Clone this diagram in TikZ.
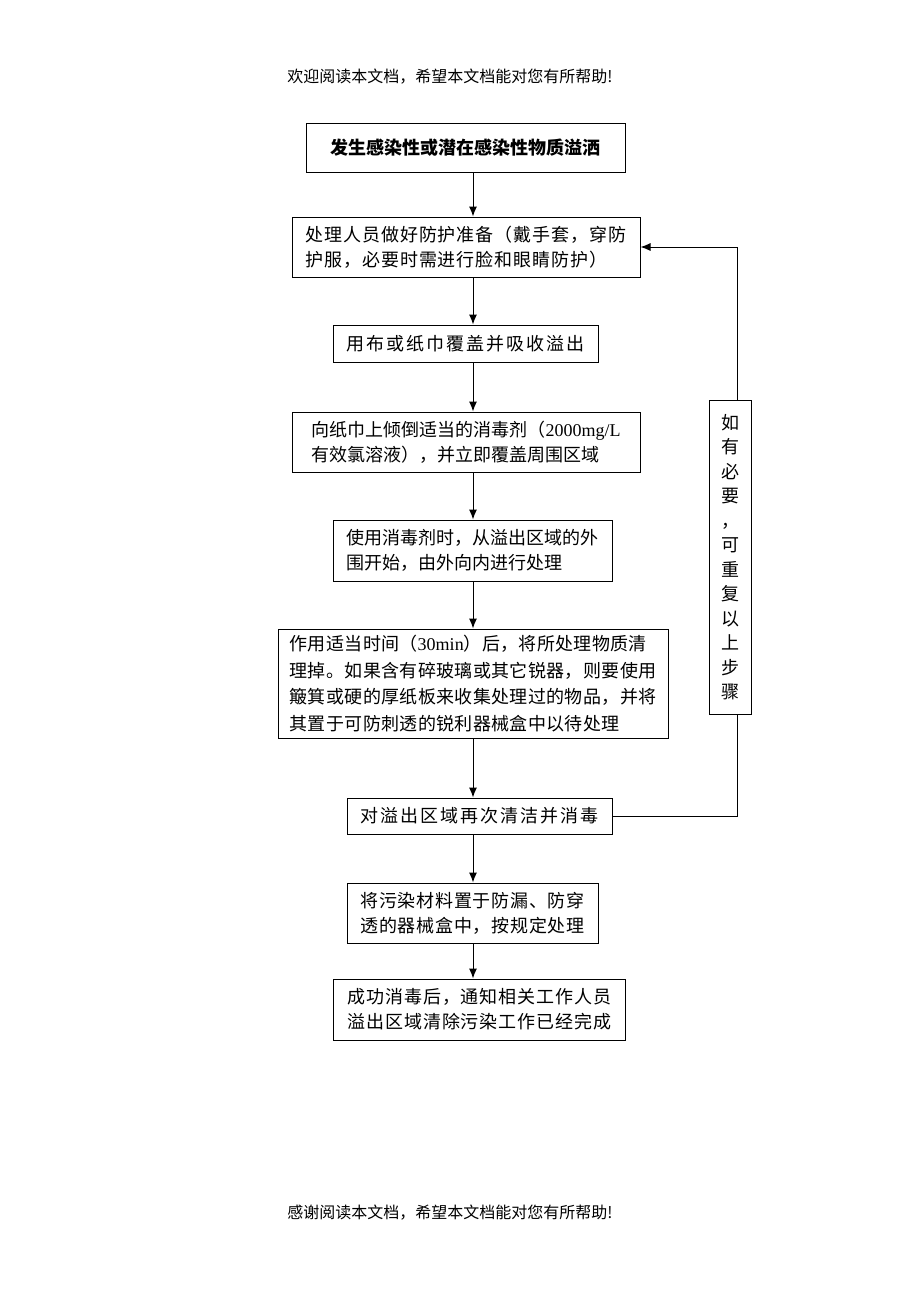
\documentclass[tikz,border=0pt]{standalone}
\usepackage{fontspec}
\setmainfont{Noto Sans CJK SC}
\newfontfamily\lat{Liberation Serif}
\usetikzlibrary{positioning,arrows.meta}

\begin{document}
\begin{tikzpicture}[
        x=1pt, y=-1pt,
        font=\fontsize{18}{25}\selectfont,
        stepbox/.style={rectangle, draw, line width=1pt, inner sep=0pt, align=left},
        spaced/.style={font=\fontsize{18}{25}\selectfont\addfontfeatures{LetterSpace=#1}},
        note/.style={font=\fontsize{16}{18}\selectfont},
        arr/.style={-{Latex[length=10pt,width=8pt]}, line width=1pt}
    ]
        \useasboundingbox (0,0) rectangle (920,1302);

        \node[note] (head) at (450,77) {欢迎阅读本文档，希望本文档能对您有所帮助!};
        \node[note] (foot) at (450,1213) {感谢阅读本文档，希望本文档能对您有所帮助!};

        \node[stepbox, minimum width=319, minimum height=49, font=\bfseries\fontsize{18}{20}\selectfont] (spill) at (465.5,147.5) {发生感染性或潜在感染性物质溢洒};
        \node[stepbox, spaced=5.5, minimum width=348, minimum height=60] (protect) at (466,247) {处理人员做好防护准备（戴手套，穿防\\护服，必要时需进行脸和眼睛防护）};
        \node[stepbox, spaced=11, minimum width=265, minimum height=37] (cover) at (465.5,343.5) {用布或纸巾覆盖并吸收溢出};
        \node[stepbox, minimum width=348, minimum height=60] (pour) at (466,442) {向纸巾上倾倒适当的消毒剂（{\lat 2000mg/L}\\有效氯溶液），并立即覆盖周围区域};
        \node[stepbox, minimum width=279, minimum height=61] (outside) at (472.5,550.5) {使用消毒剂时，从溢出区域的外\\围开始，由外向内进行处理};
        \node[stepbox, minimum width=390, minimum height=109, font=\fontsize{18}{26.5}\selectfont\addfontfeatures{LetterSpace=2}] (clear) at (473,683.5) {作用适当时间（{\lat 30min}）后，将所处理物质清\\理掉。如果含有碎玻璃或其它锐器，则要使用\\簸箕或硬的厚纸板来收集处理过的物品，并将\\其置于可防刺透的锐利器械盒中以待处理};
        \node[stepbox, spaced=11, minimum width=265, minimum height=36] (again) at (479.5,816) {对溢出区域再次清洁并消毒};
        \node[stepbox, spaced=4, minimum width=251, minimum height=60] (waste) at (472.5,913) {将污染材料置于防漏、防穿\\透的器械盒中，按规定处理};
        \node[stepbox, spaced=5.5, minimum width=292, minimum height=61] (done) at (479.5,1009.5) {成功消毒后，通知相关工作人员\\溢出区域清除污染工作已经完成};
        \node[stepbox, minimum width=42, minimum height=314, align=center, font=\fontsize{18}{24.5}\selectfont] (repeat) at (730,557) {如\\有\\必\\要\\，\\可\\重\\复\\以\\上\\步\\骤};

        \draw[arr] (spill.south -| clear) -- (protect.north -| clear);
        \draw[arr] (protect.south -| clear) -- (cover.north -| clear);
        \draw[arr] (cover.south -| clear) -- (pour.north -| clear);
        \draw[arr] (pour.south -| clear) -- (outside.north -| clear);
        \draw[arr] (outside.south -| clear) -- (clear.north);
        \draw[arr] (clear.south) -- (again.north -| clear);
        \draw[arr] (again.south -| clear) -- (waste.north -| clear);
        \draw[arr] (waste.south -| clear) -- (done.north -| clear);

        \draw[line width=1pt] (again.east) -| ([xshift=7pt]repeat.south);
        \draw[arr] ([xshift=7pt]repeat.north) |- (protect.east);
    \end{tikzpicture}
\end{document}
